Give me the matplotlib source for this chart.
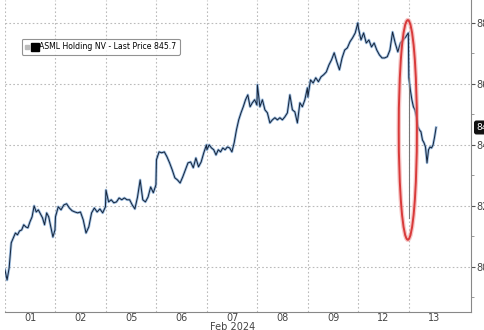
#!/usr/bin/env python3
# ASML intraday price, Feb 2024 (Bloomberg style)

import matplotlib
matplotlib.use("Agg")
import matplotlib.pyplot as plt
import numpy as np
from matplotlib.lines import Line2D
from matplotlib.patches import Ellipse
from matplotlib.legend_handler import HandlerTuple

# trading days shown on the x axis
day_labels = ["01", "02", "05", "06", "07", "08", "09", "12", "13"]

# intraday prices per session
day01 = [799.0, 795.7, 799.7, 807.9, 809.5, 811.1, 810.5, 811.8, 812.1, 813.8,
         813.1, 812.8, 814.8, 816.4, 820.0, 818.0, 818.7, 817.4, 816.1, 813.8,
         817.7, 816.4, 813.1, 809.8, 812.1]
day02 = [816.4, 819.7, 818.7, 820.3, 820.7, 819.3, 818.4, 818.0, 817.7, 818.0,
         815.4, 811.1, 813.1, 817.7, 819.3, 818.0, 819.0, 817.7, 819.7]
day05 = [825.2, 821.3, 822.0, 821.0, 821.3, 822.6, 822.0, 822.6, 822.0, 822.0,
         820.3, 819.0, 822.9, 828.5, 822.0, 821.3, 822.9, 826.2, 824.3, 826.9]
day06 = [835.1, 837.7, 837.4, 837.7, 836.1, 834.1, 831.8, 829.2, 828.5, 827.5,
         829.5, 831.8, 834.1, 834.4, 832.5, 835.7, 832.8, 834.4, 837.4, 840.0]
day07 = [838.4, 840.0, 839.0, 838.4, 836.7, 838.4, 837.7, 839.0, 838.4, 839.3,
         839.0, 837.7, 840.7, 844.9, 848.2, 850.5, 852.5, 854.8, 856.4, 852.5,
         853.8, 854.8, 853.1]
day08 = [859.7, 852.5, 854.8, 851.5, 850.5, 847.2, 848.2, 848.9, 848.2, 848.9,
         848.2, 849.2, 850.5, 856.4, 851.5, 850.8, 847.2, 853.8, 852.5, 854.8,
         858.7]
day09 = [855.7, 861.3, 860.3, 862.0, 860.7, 862.3, 863.0, 863.9, 866.2, 867.9,
         870.2, 867.2, 864.6, 868.5, 871.1, 871.8, 873.8, 875.1, 876.7, 880.0]
day12 = [878.4, 874.4, 876.7, 873.4, 874.4, 872.1, 873.4, 871.1, 869.5, 868.5,
         868.5, 868.9, 871.1, 877.0, 873.4, 870.5, 873.4, 874.4, 875.4, 876.7]
day13_open = [862.0, 816.1]   # bad opening print on the 13th
day13 = [862.0, 858.0, 854.8, 852.5, 851.5, 849.2, 845.9, 844.9, 844.3, 841.6,
         840.7, 839.3, 834.1, 838.4, 839.3, 839.0, 840.0, 842.6, 845.7]
day13_done = 0.54  # fraction of the session elapsed

last_price = 845.7

full_days = [day01, day02, day05, day06, day07, day08, day09, day12]

xs = []
ys = []
for i, d in enumerate(full_days):
    xs.extend(i + np.linspace(0.0, 0.99, len(d)))
    ys.extend(d)
xs.extend(8.0 + np.linspace(0.0, day13_done, len(day13)))
ys.extend(day13)

fig = plt.figure(figsize=(4.85, 3.30), dpi=100)
ax = fig.add_axes([0.0103, 0.0545, 0.9607, 0.9455])

# blue halo + dark line like the terminal chart
ax.plot(xs, ys, color="#6a9bd0", lw=1.9, alpha=0.65, solid_joinstyle="round")
ax.plot(xs, ys, color="#14233a", lw=0.7)
ax.plot([8.0, 8.0], day13_open, color="#777777", lw=0.8)

ax.set_xlim(0, 9.23)
ax.set_ylim(785.2, 887.5)

# grid
for k in range(9):
    ax.axvline(k, color="#bbbbbb", lw=0.8, ls=(0, (1.5, 2)), zorder=0)
for v in range(800, 881, 20):
    ax.axhline(v, color="#bbbbbb", lw=0.8, ls=(0, (1.5, 2)), zorder=0)

# axes styling
for s in ["left", "top"]:
    ax.spines[s].set_visible(False)
ax.spines["right"].set_color("#888888")
ax.spines["bottom"].set_color("#888888")
ax.yaxis.tick_right()
ax.set_yticks(range(800, 881, 20))
ax.set_yticks(range(790, 881, 20), minor=True)
ax.tick_params(axis="y", which="major", direction="out", length=3,
               color="#555555", labelsize=7, labelcolor="#444444", pad=1)
ax.tick_params(axis="y", which="minor", direction="out", length=2,
               color="#888888")
ax.set_xticks(np.arange(9) + 0.5)
ax.set_xticklabels(day_labels)
ax.tick_params(axis="x", length=0, labelsize=7, labelcolor="#444444", pad=1)
ax.text(4.5, -0.032, "Feb 2024", transform=ax.get_xaxis_transform(),
        ha="center", va="top", fontsize=7, color="#444444")
fig.text(0.5, -0.007, "Australia 61 2 9777 8600  Brazil 5511 2395 9000  Europe 44 20 7330 7500  "
         "Germany 49 69 9204 1210  Hong Kong 852 2977 6000",
         ha="center", va="center", fontsize=3.5, color="#aaaaaa")

# last price tag
ax.annotate(f"{last_price:.1f}", xy=(1.0, last_price),
            xycoords=ax.get_yaxis_transform(), xytext=(4, 0),
            textcoords="offset points", va="center", ha="left",
            fontsize=6.5, color="white",
            bbox=dict(boxstyle="round,pad=0.2", fc="#111111", ec="#111111"))

# red ellipse around the gap
ax.add_patch(Ellipse((7.98, 844.9), 0.36, 72, fill=False,
                     ec="#f0a0a0", lw=3.2, alpha=0.6, zorder=5))
ax.add_patch(Ellipse((7.98, 844.9), 0.36, 72, fill=False,
                     ec="#d83a3a", lw=1.4, zorder=6))

# legend
h_small = Line2D([], [], ls="none", marker="s", ms=3, color="#bbbbbb")
h_big = Line2D([], [], ls="none", marker="s", ms=5.5, color="black")
leg = fig.legend([(h_small, h_big)], ["ASML Holding NV - Last Price 845.7"],
                 handler_map={tuple: HandlerTuple(ndivide=None, pad=0.6)},
                 loc="upper left", bbox_to_anchor=(0.045, 0.882),
                 fontsize=5.6, frameon=True, fancybox=True,
                 handlelength=1.5, handletextpad=0.3,
                 borderpad=0.45, borderaxespad=0)
leg.get_frame().set_edgecolor("#777777")
leg.get_frame().set_linewidth(0.8)

fig.savefig("out.png", dpi=100)
